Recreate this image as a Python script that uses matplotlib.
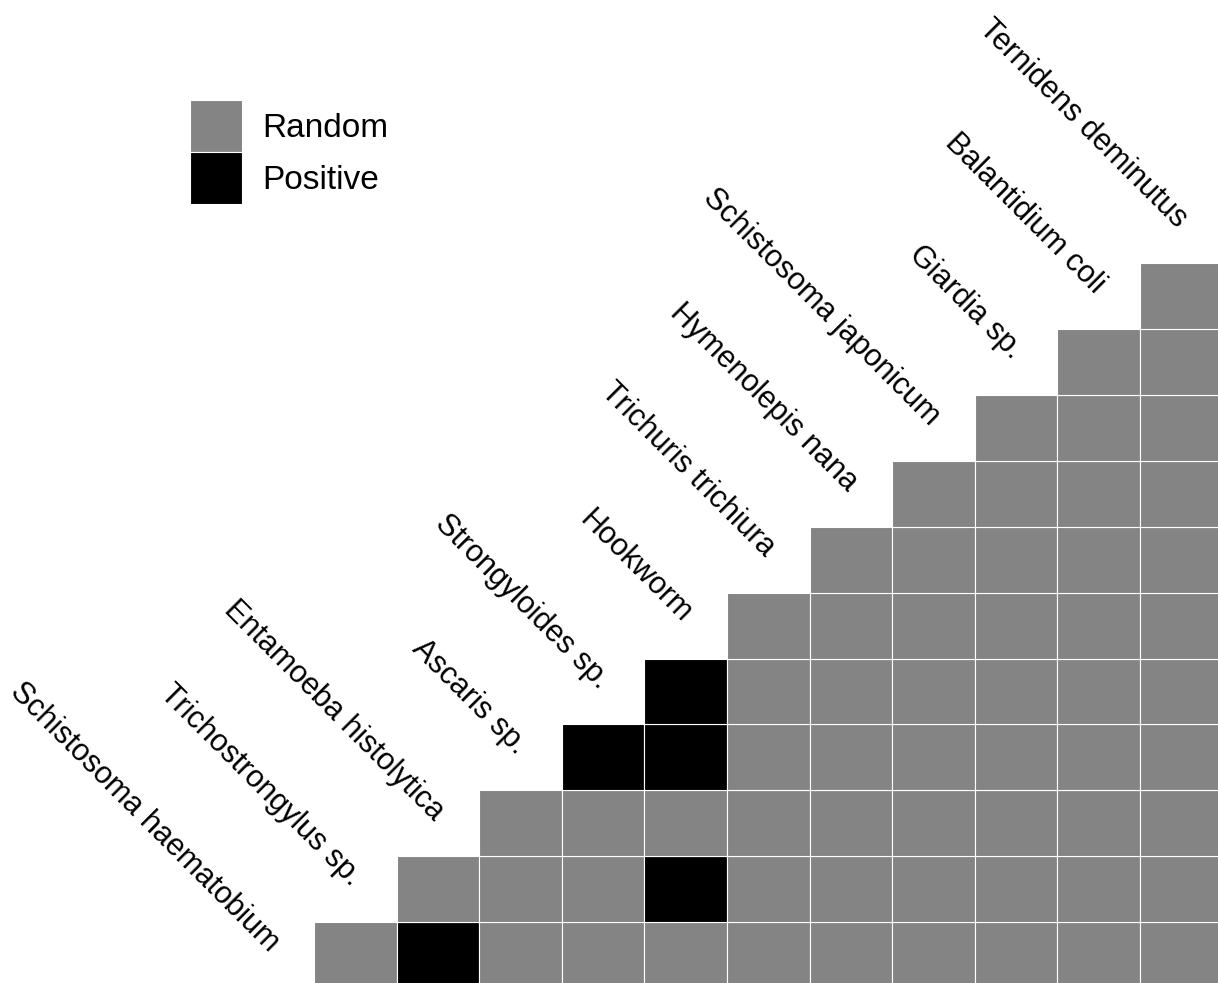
import matplotlib
matplotlib.use("Agg")
from matplotlib import pyplot as plt
from matplotlib.patches import Patch

plt.rcParams['font.family'] = ['Liberation Sans', 'DejaVu Sans']

# species in matrix order (diagonal labels)
species = ["Schistosoma haematobium", "Trichostrongylus sp.", "Entamoeba histolytica",
           "Ascaris sp.", "Strongyloides sp.", "Hookworm", "Trichuris trichiura",
           "Hymenolepis nana", "Schistosoma japonicum", "Giardia sp.",
           "Balantidium coli", "Ternidens deminutus"]

# pairs (i, j) with a positive co-occurrence, everything else is random
positive_pairs = [(0, 2), (1, 5), (3, 4), (3, 5), (4, 5)]

gray = "#848484"
black = "#000000"

fig = plt.figure(figsize=(12.18, 9.83), dpi=100)
ax = fig.add_axes([0, 0, 1, 1])

n = len(species)
xs, ys, cols = [], [], []
for i in range(n):
    for j in range(i + 1, n):
        xs.append(j - 1)
        ys.append(i)
        cols.append(black if (i, j) in positive_pairs else gray)

ax.bar(xs, 1.0, bottom=[y - 0.5 for y in ys], width=1.0, color=cols,
       edgecolor="white", linewidth=0.8, align="center")

for k, name in enumerate(species):
    ax.text(k - 1 - 0.05, k + 0.03, name, rotation=-45, ha="right", va="baseline",
            rotation_mode="anchor", fontsize=22)

ax.set_xlim(-4.301, 10.444)
ax.set_ylim(-0.425, 14.498)
ax.axis("off")

handles = [Patch(facecolor=gray, edgecolor="white", linewidth=0.8, label="Random"),
           Patch(facecolor=black, edgecolor="white", linewidth=0.8, label="Positive")]
fig.legend(handles=handles, loc="upper left", bbox_to_anchor=(190 / 1218, 1 - 100 / 983),
           frameon=False, fontsize=24, handlelength=52 / 33.3, handleheight=2.025,
           labelspacing=0.0, handletextpad=0.6, borderpad=0, borderaxespad=0)

fig.savefig("out.png", dpi=100)
